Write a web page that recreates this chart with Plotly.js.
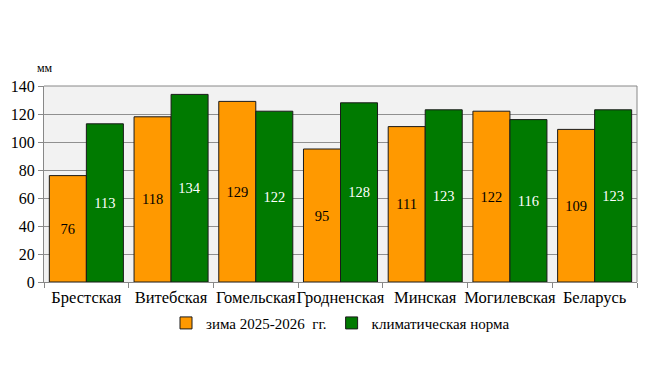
<!DOCTYPE html>
<html>
<head>
<meta charset="utf-8">
<script src="https://cdn.plot.ly/plotly-3.0.1.min.js"></script>
<style>html,body{margin:0;padding:0;background:#fff;}#chart{width:649px;height:384px;}</style>
</head>
<body>
<div id="chart"></div>
<script>
const categories = ["Брестская","Витебская","Гомельская","Гродненская","Минская","Могилевская","Беларусь"];
const winter = [76,118,129,95,111,122,109];
const norm = [113,134,122,128,123,116,123];
const seriesNames = ["зима 2025-2026  гг.","климатическая норма"];
const fontFam = "Liberation Serif";
const traces = [
  {type:"bar", x:categories, y:winter, name:seriesNames[0],
   marker:{color:"#ff9900", line:{color:"#1a1a1a", width:1}},
   text:winter.map(String), textposition:"inside", insidetextanchor:"middle", textangle:0,
   textfont:{family:fontFam, size:14.5, color:"#000"}},
  {type:"bar", x:categories, y:norm, name:seriesNames[1],
   marker:{color:"#007a00", line:{color:"#1a1a1a", width:1}},
   text:norm.map(String), textposition:"inside", insidetextanchor:"middle", textangle:0,
   textfont:{family:fontFam, size:14.5, color:"#fff"}}
];
const layout = {
  width:649, height:384,
  margin:{l:44, r:12, t:86, b:102},
  paper_bgcolor:"#fff", plot_bgcolor:"#f2f2f2",
  barmode:"group", bargap:0.126, bargroupgap:0,
  font:{family:fontFam, size:14, color:"#000"},
  showlegend:true,
  legend:{orientation:"h", x:0.5, xanchor:"center", y:-0.21, yanchor:"middle",
    font:{family:fontFam, size:15, color:"#000"}, traceorder:"normal"},
  xaxis:{type:"category", tickson:"boundaries", ticks:"outside", ticklen:5, tickcolor:"#888", tickangle:0,
    showline:true, linecolor:"#888", linewidth:1, showgrid:false, tickfont:{family:fontFam, size:16.5}},
  yaxis:{range:[0,140], dtick:20, ticks:"outside", ticklen:5, tickcolor:"#888",
    showline:true, linecolor:"#888", gridcolor:"#909090", gridwidth:1, zeroline:false,
    tickfont:{family:fontFam, size:16}},
  annotations:[{text:"мм", xref:"paper", yref:"paper", x:-0.015, y:1.09, xanchor:"left", yanchor:"middle",
    showarrow:false, font:{family:fontFam, size:12, color:"#000"}}],
  shapes:[{type:"line", xref:"paper", yref:"paper", x0:1, x1:1, y0:0, y1:1, line:{color:"#888", width:1}},
          {type:"line", xref:"paper", yref:"paper", x0:0, x1:1, y0:1, y1:1, line:{color:"#888", width:1}}]
};
Plotly.newPlot("chart", traces, layout, {displayModeBar:false});
</script>
</body>
</html>
